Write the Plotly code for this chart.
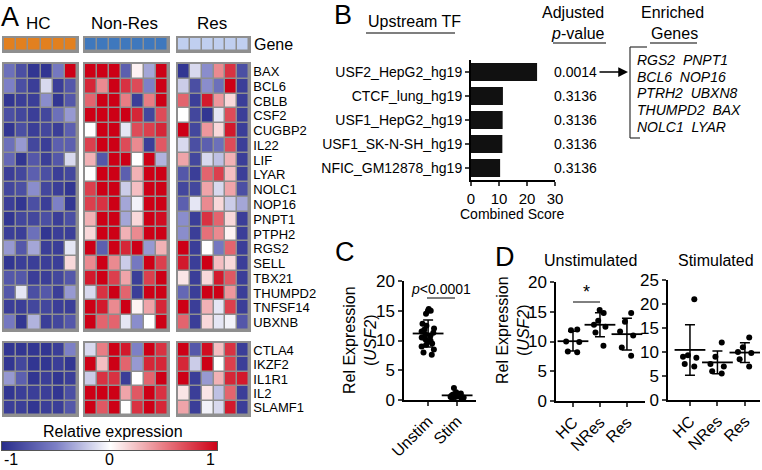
import plotly.graph_objects as go
import numpy as np

W, H = 762, 470
def px(x): return x / W
def py(y): return 1 - y / H

FONT = "Liberation Sans, Arial, sans-serif"
GRAY = "#8f8f8f"

# ---------------- Panel A data ----------------
groups = ["HC", "Non-Res", "Res"]
group_colors = ["#e2801f", "#3f78bd", "#c0cff0"]
genes_main = ["BAX", "BCL6", "CBLB", "CSF2", "CUGBP2", "IL22", "LIF", "LYAR", "NOLC1",
              "NOP16", "PNPT1", "PTPH2", "RGS2", "SELL", "TBX21", "THUMPD2", "TNFSF14", "UBXNB"]
genes_second = ["CTLA4", "IKZF2", "IL1R1", "IL2", "SLAMF1"]
scale_ticks = [-1, 0, 1]

hc_main = [
    [-0.6, -0.8, -0.95, -0.95, -0.55, 1.0],
    [-0.5, -0.8, -0.9, -0.15, -0.9, -0.75],
    [-0.95, -0.9, -0.9, -0.45, -0.95, -0.75],
    [-0.8, -0.85, -0.9, -0.85, -0.6, -0.4],
    [-0.95, -0.8, -0.9, -0.85, -0.9, -0.7],
    [-0.6, -0.4, -0.85, -0.9, -0.7, -0.7],
    [-0.65, -0.95, -0.75, -0.9, -0.75, -0.15],
    [-0.9, -0.85, -0.7, -0.8, -0.9, -0.85],
    [-0.85, -0.8, -0.45, -0.85, -0.9, -0.95],
    [-0.9, -0.95, -0.8, -0.9, -0.5, -0.95],
    [-0.95, -0.85, -0.85, -0.8, -0.9, -0.8],
    [-0.9, -0.9, -0.6, -0.95, -0.9, -0.9],
    [-0.4, -0.75, -0.35, -0.9, -0.9, -0.1],
    [-0.95, -0.9, -0.9, -0.9, -0.9, 0.15],
    [-0.75, -0.75, -0.9, -0.9, -0.85, -0.75],
    [-0.75, -0.1, -0.8, -0.75, -0.9, -0.4],
    [-0.9, -0.9, -0.85, -0.85, -0.9, -0.9],
    [-0.55, -0.95, -0.3, -0.9, -0.85, -0.75],
]
nr_main = [
    [1.0, 1.0, 1.0, -0.7, 0.05, -0.35, 1.0],
    [0.85, 0.45, 1.0, 0.8, 0.7, -0.5, 1.0],
    [0.6, 1.0, 1.0, 0.5, -0.9, 0.5, 1.0],
    [1.0, 1.0, 1.0, 1.0, 0.85, -0.85, 0.7],
    [0.0, 1.0, 1.0, -0.1, 0.7, 0.75, 0.85],
    [0.75, 1.0, 1.0, 0.7, 0.45, -0.9, 0.65],
    [0.3, -0.75, 1.0, 1.0, 0.0, 1.0, -0.3],
    [0.0, 1.0, 1.0, -0.7, 0.3, 1.0, 1.0],
    [0.75, 1.0, 1.0, -0.2, 0.25, 1.0, 1.0],
    [0.75, 0.8, 1.0, -0.35, -0.05, 1.0, 1.0],
    [0.3, 1.0, 1.0, -0.35, 0.15, 1.0, 0.95],
    [0.15, 1.0, 1.0, 0.3, 0.45, 1.0, 1.0],
    [1.0, -0.7, 1.0, 0.85, 1.0, -0.4, 0.3],
    [0.45, 1.0, 0.45, -0.2, -0.55, 1.0, 0.75],
    [0.9, 1.0, 0.75, 0.35, -0.9, 0.75, 1.0],
    [-0.15, 0.8, 1.0, 0.6, -0.9, 1.0, 1.0],
    [1.0, 0.9, 0.45, 1.0, 0.05, 0.35, 0.85],
    [1.0, 0.6, 0.6, -0.1, -0.45, 0.0, 1.0],
]
res_main = [
    [-0.95, -0.15, -0.45, 0.45, 0.8, -0.8],
    [-0.2, -0.8, -0.45, -0.6, 1.0, -0.9],
    [0.6, -0.9, 0.9, 0.4, 0.15, -0.9],
    [0.0, -0.85, -0.95, -0.1, 0.7, -0.9],
    [1.0, -0.85, 0.4, 0.15, 0.9, -0.9],
    [-0.15, -0.8, -0.7, -0.6, 0.7, -0.9],
    [0.35, -0.85, -0.15, -0.25, 0.3, -0.9],
    [-0.75, -0.9, 0.6, 0.75, 0.25, -0.9],
    [-0.85, -0.85, 0.35, -0.15, 0.35, -0.8],
    [-0.7, -0.1, 0.45, 0.15, -0.2, -0.35],
    [-0.45, -0.9, 0.8, 0.6, 0.15, -0.9],
    [-0.45, -0.9, 0.55, 0.45, 0.05, -0.9],
    [1.0, -0.9, 0.0, -0.55, 0.6, -0.9],
    [0.9, -0.9, 1.0, 0.25, 0.15, -0.9],
    [0.1, -0.9, 0.15, 0.9, 0.65, -0.9],
    [-0.65, -0.9, 1.0, 1.0, 0.4, -0.9],
    [1.0, -0.9, 0.3, -0.1, 0.75, -0.9],
    [0.6, -0.9, 0.15, -0.1, -0.05, -0.75],
]
hc_second = [
    [-0.95, -0.95, -0.95, -0.95, -0.9, -0.5],
    [-0.95, -0.85, -0.95, -0.95, -0.9, -0.95],
    [-0.4, -0.7, -0.95, -0.9, -0.95, -0.9],
    [-0.95, -0.9, -0.9, -0.9, -0.95, -0.8],
    [-0.9, -0.9, -0.95, -0.9, -0.9, -0.75],
]
nr_second = [
    [-0.15, 0.5, 1.0, 0.9, -0.5, 1.0, 0.8],
    [1.0, 0.25, 1.0, 0.6, -0.4, 0.85, 0.85],
    [-0.2, 0.8, 0.8, -0.9, 0.0, 0.6, 1.0],
    [1.0, 1.0, 1.0, 0.35, 0.65, 1.0, 0.8],
    [1.0, 0.65, 1.0, 0.0, 0.8, 1.0, 0.85],
]
res_second = [
    [1.0, -0.75, 0.95, 0.25, 0.8, -0.9],
    [0.85, -0.2, 1.0, 0.0, 0.75, -0.9],
    [1.0, -0.9, -0.4, 0.3, 0.85, 0.9],
    [0.1, -0.9, 0.1, -0.25, 0.6, -0.9],
    [0.35, -0.9, -0.05, -0.15, 0.9, -0.9],
]

# ---------------- Panel B data ----------------
tf_names = ["USF2_HepG2_hg19", "CTCF_lung_hg19", "USF1_HepG2_hg19", "USF1_SK-N-SH_hg19", "NFIC_GM12878_hg19"]
combined_score = [23.6, 11.4, 11.3, 11.2, 10.4]
adj_pvalues = ["0.0014", "0.3136", "0.3136", "0.3136", "0.3136"]
enriched_genes = ["RGS2  PNPT1", "BCL6  NOP16", "PTRH2  UBXN8", "THUMPD2  BAX", "NOLC1  LYAR"]

# ---------------- Panel C data ----------------
c_cats = ["Unstim", "Stim"]
c_unstim = [15.3, 15.0, 15.0, 14.5, 12.8, 12.5, 12.0, 11.8, 11.5, 11.3, 11.0, 10.8,
            10.5, 10.2, 10.0, 9.8, 9.5, 9.3, 9.0, 8.5, 8.0, 7.6]
c_stim = [2.0, 1.3, 1.1, 1.0, 0.9, 0.9, 0.8, 0.8, 0.7, 0.7, 0.6, 0.6, 0.5, 0.5,
          0.5, 0.4, 0.4, 0.3]

# ---------------- Panel D data ----------------
d_cats = ["HC", "NRes", "Res"]
d_unstim = {"HC": [12.0, 11.9, 10.0, 9.9, 8.3, 8.2],
            "NRes": [15.3, 14.8, 13.5, 12.8, 12.5, 11.5, 9.3],
            "Res": [14.8, 13.3, 11.7, 11.0, 9.0, 7.6]}
d_stim = {"HC": [21.0, 9.3, 9.0, 8.8, 7.5, 7.0],
          "NRes": [12.0, 9.0, 7.5, 7.0, 6.0, 5.5],
          "Res": [13.0, 11.0, 10.0, 9.8, 8.5, 7.0]}

# =====================================================
fig = go.Figure()
layout = {}
shapes = []
annotations = []
counter = [0]

def add_axes(xd, yd, xkw, ykw):
    counter[0] += 1
    i = counter[0]
    s = "" if i == 1 else str(i)
    layout["xaxis" + s] = dict(domain=[px(xd[0]), px(xd[1])], anchor="y" + s, automargin=False, **xkw)
    layout["yaxis" + s] = dict(domain=[py(yd[1]), py(yd[0])], anchor="x" + s, automargin=False, **ykw)
    return "x" + s, "y" + s

def note(text, x, y, size=16, xanchor="center", yanchor="middle", xref="paper", yref="paper", **kw):
    annotations.append(dict(text=text, x=x, y=y, xref=xref, yref=yref, showarrow=False,
                            xanchor=xanchor, yanchor=yanchor,
                            font=dict(size=size, color="black"), **kw))

cscale = [[0, "rgb(42,46,140)"], [0.25, "rgb(125,128,198)"], [0.5, "rgb(255,255,255)"],
          [0.75, "rgb(232,125,132)"], [1, "rgb(205,0,22)"]]

gx = [(4, 77), (85, 168), (178, 249)]
strip_y = (38, 51)
main_y = (64, 330)
sec_y = (343, 415)
mains = [hc_main, nr_main, res_main]
secs = [hc_second, nr_second, res_second]

def hm_axes(n, right_labels, fs, labels):
    xkw = dict(range=[-0.5, n - 0.5], showticklabels=False, ticks="", showgrid=False,
               zeroline=False, showline=True, mirror=True, linecolor=GRAY, linewidth=1.5)
    ykw = dict(autorange="reversed", showticklabels=right_labels, side="right", ticks="",
               tickmode="array", tickvals=labels, ticktext=labels,
               showgrid=False, zeroline=False, showline=True, mirror=True,
               linecolor=GRAY, linewidth=1.5, tickfont=dict(size=fs, color="black"))
    return xkw, ykw

for gi in range(3):
    n = len(mains[gi][0])
    cols = list(range(n))
    # strip
    xkw, ykw = hm_axes(n, gi == 2, 16, ["Gene"])
    xa, ya = add_axes(gx[gi], strip_y, xkw, ykw)
    fig.add_trace(go.Heatmap(z=[[1] * n], x=cols, y=["Gene"], xaxis=xa, yaxis=ya,
                             colorscale=[[0, group_colors[gi]], [1, group_colors[gi]]],
                             showscale=False, xgap=1.5, ygap=1.5, hoverinfo="skip"))
    shapes.append(dict(type="rect", xref=xa + " domain", yref=ya + " domain", x0=0, x1=1, y0=0, y1=1,
                       fillcolor=GRAY, line_width=0, layer="below"))
    # main + second blocks
    for blk, yd, genes in [(mains[gi], main_y, genes_main), (secs[gi], sec_y, genes_second)]:
        xkw, ykw = hm_axes(n, gi == 2, 13, genes)
        xa, ya = add_axes(gx[gi], yd, xkw, ykw)
        fig.add_trace(go.Heatmap(
            z=blk, x=cols, y=genes, xaxis=xa, yaxis=ya, colorscale=cscale, zmin=-1, zmax=1,
            xgap=1.5, ygap=1.5, showscale=False))
        shapes.append(dict(type="rect", xref=xa + " domain", yref=ya + " domain", x0=0, x1=1, y0=0, y1=1,
                           fillcolor=GRAY, line_width=0, layer="below"))

# colour scale bar (drawn as a smooth heatmap of the scale's tick values)
xa, ya = add_axes((2, 217), (442, 450),
                  dict(range=[-1, 1], showticklabels=False, ticks="", showgrid=False, zeroline=False,
                       showline=True, mirror=True, linecolor="#555", linewidth=1),
                  dict(range=[0, 1], showticklabels=False, ticks="", showgrid=False, zeroline=False,
                       showline=True, mirror=True, linecolor="#555", linewidth=1))
fig.add_trace(go.Heatmap(z=[[-1, -0.5, 0, 0.5, 1], [-1, -0.5, 0, 0.5, 1]], x=[-1, -0.5, 0, 0.5, 1],
                         y=[0, 1], xaxis=xa, yaxis=ya,
                         colorscale=cscale, zmin=-1, zmax=1, zsmooth="best", showscale=False,
                         hoverinfo="skip"))
for v, anc in zip(scale_ticks, ["left", "center", "right"]):
    note(str(v), v, py(459), size=16, xanchor=anc, xref=xa)
shapes.append(dict(type="line", xref=xa, yref="paper", x0=0, x1=0, y0=py(439), y1=py(442),
                   line=dict(color="#555", width=1)))
note("Relative expression", px(113), py(431), size=16)

# group headers
for gname, (x0, x1) in zip(groups, gx):
    note(gname, px((x0 + x1) / 2 - 2), py(24), size=17)

# ---------------- Panel B ----------------
xa, ya = add_axes((471, 555), (60, 180),
                  dict(range=[0, 30], tickvals=[0, 10, 20, 30], ticks="outside", ticklen=4, tickwidth=2,
                       showline=True, linewidth=2, linecolor="black", showgrid=False, zeroline=False,
                       tickfont=dict(size=15, color="black")),
                  dict(autorange="reversed", ticks="outside", ticklen=4, tickwidth=1.5, showline=True,
                       linewidth=2, linecolor="black", showgrid=False, zeroline=False,
                       tickmode="array", tickvals=tf_names, ticktext=tf_names,
                       tickfont=dict(size=14, color="black")))
fig.add_trace(go.Bar(x=combined_score, y=tf_names, orientation="h", xaxis=xa, yaxis=ya,
                     marker=dict(color="#111111", line_width=0), width=0.75))
bar_y = ya
note("Combined Score", px(512), py(214), size=14)
for name, pv in zip(tf_names, adj_pvalues):
    note(pv, px(552), name, size=14, xanchor="left", yref=bar_y)
# arrow
annotations.append(dict(text="", x=px(628), y=tf_names[0], xref="paper", yref=bar_y, showarrow=True,
                        ax=-30, ay=0, arrowhead=2, arrowsize=1.3, arrowwidth=1.5, arrowcolor="black"))
# enriched gene list
gene_rows_y = [60, 77, 93, 110, 127]
for g, yy in zip(enriched_genes, gene_rows_y):
    note("<i>" + g.replace("  ", "&nbsp;&nbsp;") + "</i>", px(635), py(yy), size=14, xanchor="left")
# headers
hdrs = [("Upstream TF", 415, 22), ("Adjusted", 573, 13), ("<i>p</i>-value", 578, 33),
        ("Enriched", 672, 13), ("Genes", 674, 33)]
for t, xx, yy in hdrs:
    note(t, px(xx), py(yy), size=16)
for (x0, x1, yy) in [(366, 455, 33), (553, 606, 43), (650, 697, 43)]:
    shapes.append(dict(type="line", xref="paper", yref="paper", x0=px(x0), x1=px(x1), y0=py(yy), y1=py(yy),
                       line=dict(color="black", width=1.2)))
# bracket
for (x0, y0, x1, y1) in [(630, 47, 630, 138), (630, 47, 647, 47), (630, 138, 640, 138)]:
    shapes.append(dict(type="line", xref="paper", yref="paper", x0=px(x0), x1=px(x1), y0=py(y0), y1=py(y1),
                       line=dict(color="#333", width=1.2)))

# ---------------- dot plots helpers ----------------
def dot_axes(xd, yd, cats, xr, yr, ytv):
    return add_axes(xd, yd,
                    dict(type="category", categoryorder="array", categoryarray=cats, range=xr,
                         ticks="outside", ticklen=4, tickwidth=1.5, tickangle=-45, showline=True,
                         linewidth=1.5, linecolor="black", showgrid=False, zeroline=False,
                         tickfont=dict(size=16, color="black")),
                    dict(range=yr, tickvals=ytv, ticks="outside", ticklen=4, tickwidth=1.5, showline=True,
                         linewidth=1.5, linecolor="black", showgrid=False, zeroline=False,
                         tickfont=dict(size=17, color="black")))

def dot_traces(xa, ya, data_by_cat, cats):
    for c in cats:
        vals = data_by_cat[c]
        fig.add_trace(go.Box(x=[c] * len(vals), y=vals, xaxis=xa, yaxis=ya, boxpoints="all",
                             jitter=1, pointpos=0, width=0.6, fillcolor="rgba(0,0,0,0)",
                             line=dict(width=0, color="rgba(0,0,0,0)"),
                             marker=dict(color="black", size=6), hoverinfo="y"))
    means = [float(np.mean(data_by_cat[c])) for c in cats]
    sds = [float(np.std(data_by_cat[c], ddof=1)) for c in cats]
    fig.add_trace(go.Scatter(x=cats, y=means, xaxis=xa, yaxis=ya, mode="markers",
                             marker=dict(symbol="line-ew", size=22, color="black",
                                         line=dict(width=1.8, color="black")),
                             error_y=dict(type="data", array=sds, visible=True, color="black",
                                          thickness=1.5, width=5)))

# ---------------- Panel C ----------------
xa, ya = dot_axes((404, 476), (281, 400), c_cats, [-0.83, 1.65], [0, 20], [0, 5, 10, 15, 20])
dot_traces(xa, ya, {"Unstim": c_unstim, "Stim": c_stim}, c_cats)
note("<i>p</i><0.0001", px(441), py(289), size=14)
shapes.append(dict(type="line", xref="paper", yref="paper", x0=px(427), x1=px(455), y0=py(298), y1=py(298),
                   line=dict(color="black", width=1)))
note("Rel Expression<br>(<i>USF2</i>)", px(360), py(340), size=16, textangle=-90)

# ---------------- Panel D ----------------
xa, ya = dot_axes((556, 645), (282, 401), d_cats, [-0.63, 2.67], [0, 20], [0, 5, 10, 15, 20])
dot_traces(xa, ya, d_unstim, d_cats)
note("*", px(586), py(292), size=18)
shapes.append(dict(type="line", xref="paper", yref="paper", x0=px(573), x1=px(600), y0=py(302), y1=py(302),
                   line=dict(color="black", width=1)))
xa, ya = dot_axes((668, 760), (280, 400), d_cats, [-0.8, 2.55], [0, 25], [0, 5, 10, 15, 20, 25])
dot_traces(xa, ya, d_stim, d_cats)
note("Rel Expression<br>(<i>USF2</i>)", px(513), py(330), size=16, textangle=-90)
for t, xx in [("Unstimulated", 590), ("Stimulated", 716)]:
    note(t, px(xx), py(260), size=16)

# panel letters
for t, xx, yy in [("A", 10, 17), ("B", 343, 15), ("C", 345, 252), ("D", 505, 257)]:
    note(t, px(xx), py(yy), size=27)

fig.update_layout(**layout)
fig.update_layout(template="none", width=W, height=H, margin=dict(l=0, r=0, t=0, b=0, pad=0),
                  showlegend=False, paper_bgcolor="white", plot_bgcolor="rgba(0,0,0,0)",
                  font=dict(family=FONT, color="black"), shapes=shapes, annotations=annotations)
fig.write_html("out.html", config={"displayModeBar": False},
               post_script="document.body.style.margin='0px';")
